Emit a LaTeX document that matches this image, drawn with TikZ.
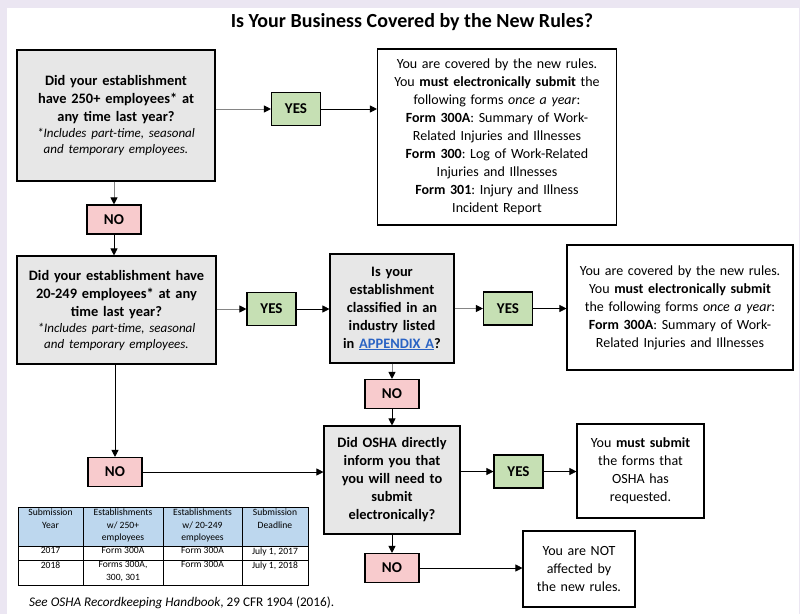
\documentclass[tikz,border=0pt]{standalone}
\usepackage{fontspec}
\setmainfont{Carlito}
\usetikzlibrary{arrows.meta}
\definecolor{framebg}{HTML}{EBE6F2}
\definecolor{qgray}{HTML}{E7E7E7}
\definecolor{yesgreen}{HTML}{C6E0B4}
\definecolor{nopink}{HTML}{F8CBCD}
\definecolor{hdrblue}{HTML}{BDD7EE}
\definecolor{linkblue}{HTML}{2A63C4}
\definecolor{linegray}{HTML}{858585}
\frenchspacing

\begin{document}
\begin{tikzpicture}[x=1pt,y=-1pt,
    qbox/.style={draw=black,line width=1.1pt,fill=qgray,align=center,inner sep=3pt,
      font=\fontsize{14.4}{18}\selectfont\bfseries},
    ansbox/.style={draw=black,line width=1.1pt,fill=white,align=center,inner sep=3pt,
      font=\fontsize{14}{18}\selectfont},
    yesbox/.style={draw=black,line width=1.1pt,fill=yesgreen,minimum width=49pt,minimum height=33pt,
      font=\fontsize{15}{16}\selectfont\bfseries},
    nobox/.style={draw=black,line width=1.1pt,fill=nopink,minimum width=54pt,minimum height=29pt,
      font=\fontsize{15}{16}\selectfont\bfseries},
    arr/.style={-{Triangle[length=7pt,width=7pt,color=black]},line width=0.8pt},
    garr/.style={arr,draw=linegray,line width=1pt},
    cell/.style={anchor=north,align=center,inner sep=0pt,font=\fontsize{9.6}{12.5}\selectfont}]

  \useasboundingbox (0,0) rectangle (800,614);
  \fill[framebg] (0,0) rectangle (800,614);
  \fill[white] (7,8) rectangle (799,614);

  \node[font=\fontsize{20}{24}\selectfont\bfseries] (title) at (412,22) {Is Your Business Covered by the New Rules?};

  % first question
  \node[qbox,text width=190pt,minimum width=198pt,minimum height=131pt] (q1) at (116,115.5)
    {Did your establishment\\have 250+ employees* at\\any time last year?\par
     {\mdseries\itshape\fontsize{13}{16}\selectfont *Includes part-time, seasonal\\and temporary employees.\par}};
  \node[yesbox] (yes1) at (296,109) {YES};
  \node[ansbox,text width=232pt,minimum width=239pt,minimum height=176pt] (res1) at (497,137)
    {You are covered by the new rules.\\You \textbf{must electronically submit} the\\following forms \textit{once a year}:\\
     \textbf{Form 300A}: Summary of Work-\\Related Injuries and Illnesses\\
     \textbf{Form 300}: Log of Work-Related\\Injuries and Illnesses\\
     \textbf{Form 301}: Injury and Illness\\Incident Report};
  \node[nobox] (no1) at (114,219.5) {NO};

  % second question
  \node[qbox,text width=193pt,minimum width=199pt,minimum height=108pt] (q2) at (116.5,310)
    {Did your establishment have\\20-249 employees* at any\\time last year?\par
     {\mdseries\itshape\fontsize{13}{16}\selectfont *Includes part-time, seasonal\\and temporary employees.\par}};
  \node[yesbox] (yes2) at (271.5,309) {YES};
  \node[qbox,text width=118pt,minimum width=123pt,minimum height=109pt] (q3) at (392,308.5)
    {Is your\\establishment\\classified in an\\industry listed\\in \textcolor{linkblue}{\underline{APPENDIX A}}?};
  \node[yesbox] (yes3) at (508,308.5) {YES};
  \node[ansbox,text width=220pt,minimum width=226pt,minimum height=125pt] (res2) at (680,307.5)
    {You are covered by the new rules.\\You \textbf{must electronically submit}\\the following forms \textit{once a year}:\\
     \textbf{Form 300A}: Summary of Work-\\Related Injuries and Illnesses};
  \node[nobox] (no3) at (392,394) {NO};

  % third question
  \node[qbox,text width=130pt,minimum width=135pt,minimum height=108pt] (q4) at (392,480)
    {Did OSHA directly\\inform you that\\you will need to\\submit\\electronically?};
  \node[nobox] (no2) at (115,472) {NO};
  \node[yesbox] (yes4) at (518.5,471.5) {YES};
  \node[ansbox,text width=121pt,minimum width=127pt,minimum height=94pt] (res4) at (640.5,471)
    {You \textbf{must submit}\\the forms that\\OSHA has\\requested.};
  \node[nobox] (no4) at (392,568) {NO};
  \node[ansbox,text width=106pt,minimum width=112pt,minimum height=76pt] (res5) at (579,569)
    {You are NOT\\affected by\\the new rules.};

  % connectors
  \draw[garr] (q1.east |- yes1) -- (yes1);
  \draw[arr] (yes1) -- (yes1 -| res1.west);
  \draw[garr] (q1.south -| no1) -- (no1);
  \draw[arr] (no1) -- (no1 |- q2.north);
  \draw[garr] (q2.east |- yes2) -- (yes2);
  \draw[arr] (yes2) -- (yes2 -| q3.west);
  \draw[garr] (q3.east |- yes3) -- (yes3);
  \draw[arr] (yes3) -- (yes3 -| res2.west);
  \draw[garr] (q3) -- (no3);
  \draw[arr] (no3) -- (q4);
  \draw[arr] (q2.south -| no2) -- (no2);
  \draw[arr] (no2) -- (no2 -| q4.west);
  \draw[arr] (q4.east |- yes4) -- (yes4);
  \draw[arr] (yes4) -- (yes4 -| res4.west);
  \draw[arr] (q4) -- (no4);
  \draw[arr] (no4) -- (no4 -| res5.west);

  % deadline table
  \fill[hdrblue] (18,507) rectangle (308,546);
  \draw[line width=0.6pt] (18,507) rectangle (308,585)
    (18,546) -- (308,546) (18,560) -- (308,560)
    (83,507) -- (83,585) (163,507) -- (163,585) (242,507) -- (242,585);
  \node[cell] (h1) at (50.5,509) {Submission\\Year};
  \node[cell] (h2) at (123,509) {Establishments\\w/ 250+\\employees};
  \node[cell] (h3) at (202.5,509) {Establishments\\w/ 20-249\\employees};
  \node[cell] (h4) at (275,509) {Submission\\Deadline};
  \node[cell] (a1) at (50.5,547.5) {2017};
  \node[cell] (a2) at (123,547.5) {Form 300A};
  \node[cell] (a3) at (202.5,547.5) {Form 300A};
  \node[cell] (a4) at (275,547.5) {July 1, 2017};
  \node[cell] (b1) at (50.5,561.5) {2018};
  \node[cell] (b2) at (123,561.5) {Forms 300A,\\300, 301};
  \node[cell] (b3) at (202.5,561.5) {Form 300A};
  \node[cell] (b4) at (275,561.5) {July 1, 2018};

  \node[anchor=west,inner sep=0pt,font=\fontsize{13.2}{15}\selectfont] (cite) at (29,603)
    {\textit{See OSHA Recordkeeping Handbook}, 29 CFR 1904 (2016).};
\end{tikzpicture}
\end{document}
